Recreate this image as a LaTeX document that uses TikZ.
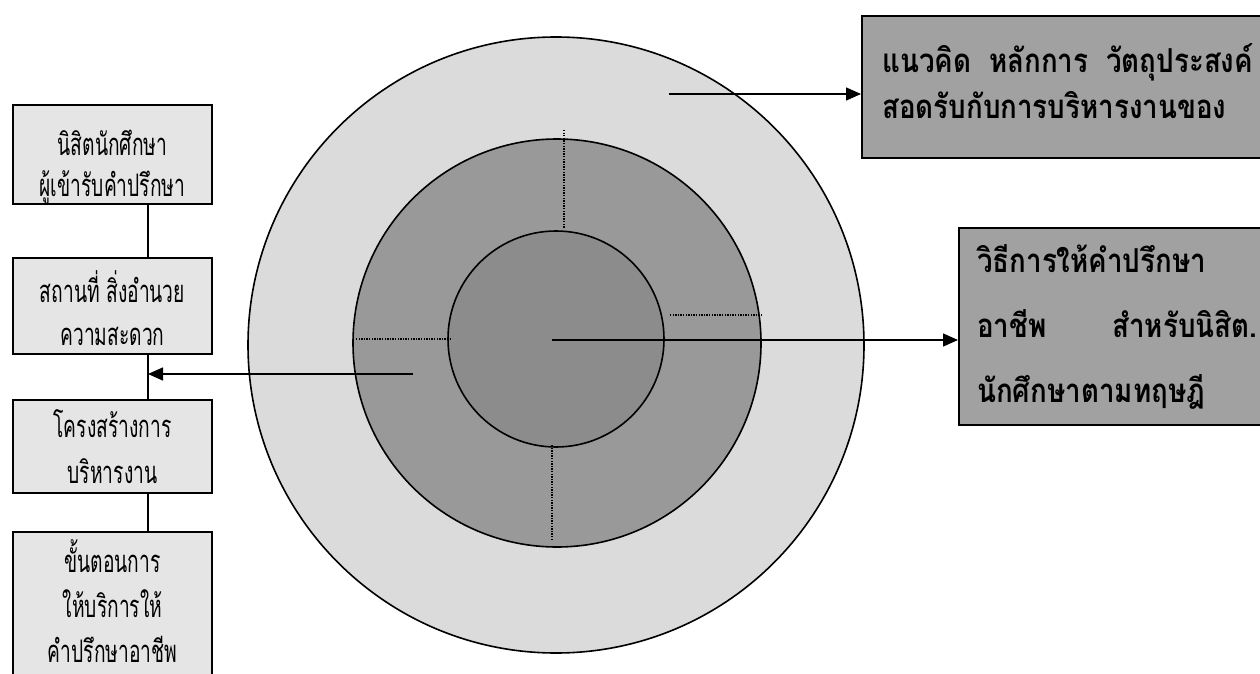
\documentclass[tikz,border=0pt]{standalone}
\usepackage{fontspec}
\usetikzlibrary{arrows.meta}
\newfontfamily\thaiL[Script=Thai,FakeStretch=0.62]{Loma}
\newfontfamily\thaiR[Script=Thai,FakeStretch=0.84]{Loma}
\definecolor{ringOuter}{gray}{0.86}
\definecolor{ringMid}{gray}{0.6}
\definecolor{ringIn}{gray}{0.55}
\definecolor{boxDark}{gray}{0.63}
\definecolor{boxLight}{gray}{0.9}
\tikzset{
  ring/.style={circle, draw=black, line width=1.6pt, inner sep=0pt},
  lbox/.style={draw=black, line width=1.6pt, fill=boxLight, minimum width=199pt, inner sep=0pt},
  ltxt/.style={anchor=base, inner sep=0pt, font=\thaiL\fontsize{31}{45}\selectfont},
  rbox/.style={draw=black, line width=1.6pt, fill=boxDark, inner sep=0pt},
  rtxt/.style={anchor=base west, inner sep=0pt, font=\thaiR\bfseries\fontsize{33}{46}\selectfont},
  conn/.style={line width=1.5pt},
  arr/.style={line width=1.5pt, -{Triangle[length=15pt,width=13pt]}},
  dotline/.style={line width=1.6pt, dash pattern=on 1.3pt off 1.3pt}
}
\begin{document}
\begin{tikzpicture}[x=1pt,y=-1pt]
\useasboundingbox (0,0) rectangle (1260,674);
\clip (0,0) rectangle (1260,674);
% target rings
\node[ring, fill=ringOuter, minimum size=616pt] (outer) at (556,345) {};
\node[ring, fill=ringMid, minimum size=408pt] (middle) at (557,343) {};
\node[ring, fill=ringIn, minimum size=216pt] (inner) at (556,339) {};
% dotted division marks
\coordinate (dt1) at (564,130); \coordinate (dt2) at (564,228);
\coordinate (db1) at (552,445); \coordinate (db2) at (552,540);
\coordinate (dl1) at (356,339); \coordinate (dl2) at (451,339);
\coordinate (dr1) at (670,315); \coordinate (dr2) at (762,315);
\draw[dotline] (dt1) -- (dt2);
\draw[dotline] (db1) -- (db2);
\draw[dotline] (dl1) -- (dl2);
\draw[dotline] (dr1) -- (dr2);
% left boxes
\node[lbox, minimum height=99pt] (A) at (112.5,154.5) {};
\node[ltxt] (A1) at (112.5,155) {นิสิตนักศึกษา};
\node[ltxt] (A2) at (112.5,196) {ผู้เข้ารับคำปรึกษา};
\node[lbox, minimum height=96pt] (B) at (112.5,306) {};
\node[ltxt] (B1) at (112.5,302) {สถานที่ สิ่งอำนวย};
\node[ltxt] (B2) at (112.5,345) {ความสะดวก};
\node[lbox, minimum height=93pt] (C) at (112.5,446.5) {};
\node[ltxt] (C1) at (112.5,437) {โครงสร้างการ};
\node[ltxt] (C2) at (112.5,483) {บริหารงาน};
\node[lbox, minimum height=168pt] (D) at (112.5,616) {};
\node[ltxt] (D1) at (112.5,572) {ขั้นตอนการ};
\node[ltxt] (D2) at (112.5,617) {ให้บริการให้};
\node[ltxt] (D3) at (112.5,662) {คำปรึกษาอาชีพ};
\coordinate (cx) at (148,0);
\draw[conn] (A.south -| cx) -- (B.north -| cx);
\draw[conn] (B.south -| cx) -- (C.north -| cx);
\draw[conn] (C.south -| cx) -- (D.north -| cx);
% right boxes
\node[rbox, minimum width=442pt, minimum height=142pt, anchor=west] (R1) at (861,87) {};
\node[rtxt] (R1a) at (882,73) {แนวคิด\hspace{18pt}หลักการ\hspace{18pt}วัตถุประสงค์};
\node[rtxt] (R1b) at (882,119) {สอดรับกับการบริหารงานของ};
\node[rbox, minimum width=330pt, minimum height=197pt, anchor=west] (R2) at (958,326.5) {};
\node[rtxt] (R2a) at (977,272) {วิธีการให้คำปรึกษา};
\node[rtxt] (R2b) at (977,337) {\makebox[280pt][l]{อาชีพ\hfill สำหรับนิสิต.}};
\node[rtxt] (R2c) at (977,402) {นักศึกษาตามทฤษฎี};
% arrows
\coordinate (ta) at (669,94);
\coordinate (ca) at (552,340);
\coordinate (la) at (413,374);
\draw[arr] (ta) -- (ta -| R1.west);
\draw[arr] (ca) -- (ca -| R2.west);
\draw[arr] (la) -- (la -| cx);
\end{tikzpicture}
\end{document}
